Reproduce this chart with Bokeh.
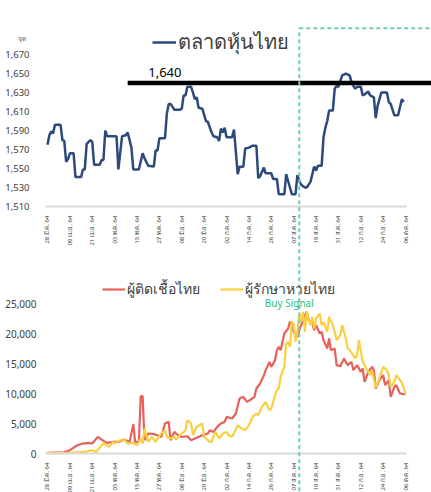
import math
from bokeh.plotting import figure
from bokeh.models import (Range1d, LinearAxis, FixedTicker, NumeralTickFormatter,
                          Legend, LegendItem, Label, BoxAnnotation)
from bokeh.embed import file_html
from bokeh.resources import INLINE

# ---------------- data ----------------
TICK_DAYS = list(range(0, 193, 12))  # days since 28 Mar 2021
TICK_LABELS = ["28 มี.ค. 64", "09 เม.ย. 64", "21 เม.ย. 64", "03 พ.ค. 64", "15 พ.ค. 64",
               "27 พ.ค. 64", "08 มิ.ย. 64", "20 มิ.ย. 64", "02 ก.ค. 64", "14 ก.ค. 64",
               "26 ก.ค. 64", "07 ส.ค. 64", "19 ส.ค. 64", "31 ส.ค. 64", "12 ก.ย. 64",
               "24 ก.ย. 64", "06 ต.ค. 64"]

STOCK_TICKS = [1510, 1530, 1550, 1570, 1590, 1610, 1630, 1650, 1670]
COVID_TICKS = [0, 5000, 10000, 15000, 20000, 25000]

STOCK_DAY = [0, 1, 2, 3, 4, 7, 8, 9, 10, 11, 12, 14, 15, 18, 19, 20, 21, 23, 24, 25, 28, 29, 30,
             31, 32, 37, 38, 40, 42, 43, 45, 46, 49, 51, 52, 54, 57, 58, 59, 60, 63, 64, 65, 66,
             68, 71, 72, 73, 74, 75, 77, 78, 79, 80, 81, 83, 85, 86, 88, 89, 91, 92, 93, 94, 95,
             96, 99, 100, 102, 103, 105, 106, 108, 110, 112, 113, 114, 116, 117, 120, 121, 123,
             124, 127, 128, 130, 131, 133, 134, 135, 136, 138, 139, 141, 143, 144, 145, 147, 148,
             149, 150, 151, 153, 154, 155, 156, 158, 160, 162, 163, 164, 165, 166, 168, 169, 170,
             172, 173, 175, 176, 177, 179, 182, 183, 184, 186, 188, 190, 191]
STOCK_SET = [1575, 1585, 1589, 1587, 1596, 1596, 1580, 1579, 1557, 1560, 1566, 1566, 1541, 1541,
             1549, 1549, 1576, 1580, 1578, 1554, 1554, 1559, 1559, 1590, 1584, 1584, 1549, 1584,
             1585, 1588, 1572, 1549, 1549, 1566, 1561, 1553, 1552, 1569, 1569, 1582, 1582, 1608,
             1618, 1618, 1612, 1612, 1613, 1627, 1627, 1636, 1636, 1630, 1623, 1625, 1614, 1613,
             1600, 1599, 1588, 1584, 1583, 1579, 1592, 1588, 1593, 1583, 1583, 1591, 1544, 1552,
             1552, 1571, 1572, 1574, 1574, 1540, 1542, 1551, 1545, 1545, 1539, 1539, 1523, 1523,
             1544, 1530, 1523, 1523, 1543, 1537, 1533, 1530, 1530, 1536, 1552, 1548, 1553, 1553,
             1583, 1593, 1600, 1611, 1611, 1634, 1637, 1636, 1648, 1650, 1648, 1641, 1637, 1634,
             1636, 1636, 1627, 1628, 1631, 1627, 1625, 1603, 1616, 1630, 1630, 1620, 1618, 1606,
             1606, 1623, 1620]

INF_DAY = [0, 9, 12, 16, 19, 22, 24, 27, 30, 32, 35, 38, 41, 42, 44, 46, 47, 49, 50, 51, 52, 54,
           57, 59, 61, 63, 65, 66, 68, 70, 72, 75, 77, 79, 83, 86, 87, 89, 91, 93, 95, 96, 99,
           101, 103, 105, 107, 109, 111, 112, 114, 116, 117, 119, 120, 122, 123, 124, 125, 126,
           127, 129, 130, 131, 132, 134, 135, 137, 138, 139, 140, 142, 143, 144, 146, 147, 148,
           150, 151, 152, 154, 155, 157, 159, 161, 163, 164, 166, 168, 169, 170, 172, 174, 175,
           176, 178, 180, 181, 183, 184, 186, 187, 189, 192]
INF_CASES = [100, 200, 550, 1380, 1660, 1770, 1660, 2770, 2100, 1770, 1940, 1940, 2330, 2220, 1940,
             4880, 1940, 1940, 9550, 9550, 2220, 3330, 3220, 3050, 2770, 5000, 5270, 2220, 3600,
             3050, 2770, 2880, 2220, 2500, 3050, 3330, 3880, 3600, 4440, 5000, 5270, 6100, 5830,
             6670, 9170, 9440, 8610, 9000, 9440, 10830, 11670, 13000, 13900, 15270, 14440, 15550,
             17220, 17770, 17200, 18600, 20000, 20830, 21940, 21660, 20280, 19440, 20550, 22200,
             23050, 23600, 22220, 21660, 20550, 21390, 19990, 20280, 18880, 17500, 19170, 17220,
             17500, 14720, 14550, 15830, 14720, 15270, 13890, 14720, 13610, 14170, 11940, 13610,
             14440, 13890, 10830, 12220, 13050, 11390, 12220, 9440, 11110, 11390, 10000, 9830]

REC_DAY = [0, 9, 20, 24, 26, 30, 32, 33, 35, 36, 39, 41, 43, 46, 48, 50, 51, 52, 54, 56, 58, 59,
           61, 63, 64, 66, 68, 69, 71, 74, 75, 77, 78, 80, 83, 84, 87, 88, 90, 92, 94, 96, 97, 99,
           102, 104, 106, 108, 110, 112, 113, 115, 117, 119, 120, 122, 123, 124, 125, 127, 128,
           129, 130, 131, 132, 133, 134, 135, 136, 137, 138, 139, 141, 142, 143, 144, 146, 147,
           148, 150, 151, 153, 154, 155, 157, 158, 160, 161, 162, 164, 165, 166, 167, 169, 170,
           171, 173, 174, 176, 177, 179, 180, 182, 183, 184, 186, 187, 189, 190, 192]
REC_CASES = [50, 50, 270, 550, 270, 1660, 1380, 1100, 1940, 1660, 2220, 2330, 1660, 1770, 1380,
             2500, 1660, 4160, 1940, 2770, 1940, 2500, 3330, 3880, 2770, 2500, 2770, 2330, 3050,
             3880, 5550, 5000, 3050, 4440, 5000, 2770, 1940, 1940, 3600, 2500, 3330, 3600, 3050,
             2800, 4700, 4160, 3880, 4720, 6100, 6660, 6400, 7770, 8600, 7220, 7500, 9720, 10550,
             10830, 12770, 14440, 18330, 18600, 17770, 21940, 21660, 18600, 20280, 23330, 21940,
             23600, 20280, 23600, 21390, 22770, 20830, 22500, 23320, 21390, 21940, 20280, 22770,
             21390, 20280, 18880, 19720, 21390, 19170, 17500, 17220, 16390, 15830, 16390, 18880,
             15270, 14720, 14170, 13050, 13890, 11000, 11660, 13610, 14440, 13890, 13050, 11110,
             11940, 13050, 12220, 11800, 10000]

RESISTANCE = 1640
RESISTANCE_FROM_DAY = 43
BUY_SIGNAL_DAY = 135  # 10 Aug 2021

# ---------------- style / layout ----------------
NAVY = "#2d4a7c"
RED = "#e9605a"
YELLOW = "#f9d042"
TEAL = "#6ccfb6"
GREEN = "#2fbf73"
TXT = "#404040"
FONT = "Noto Sans"

X_START, X_END = -25.2, 205.9     # plot frame spans the whole canvas
AX_START, AX_END = -1.07, 192.5   # extent of the drawn date axes

p = figure(width=431, height=492, x_range=Range1d(X_START, X_END),
           y_range=Range1d(-6500, 71167), output_backend="svg", toolbar_location=None,
           x_axis_location=None, y_axis_location=None, min_border_left=0,
           min_border_right=0, min_border_top=26, min_border_bottom=0)
p.extra_y_ranges = {"stock": Range1d(1209, 1699.5)}
p.xgrid.visible = False
p.ygrid.visible = False
p.outline_line_color = None
p.background_fill_color = "white"

overrides = {d: t for d, t in zip(TICK_DAYS, TICK_LABELS)}


def style_xaxis(ax, size):
    ax.ticker = FixedTicker(ticks=TICK_DAYS)
    ax.major_label_overrides = overrides
    ax.major_label_orientation = math.pi / 2
    ax.major_label_text_font_size = size
    ax.major_label_text_font = FONT
    ax.major_label_text_color = TXT
    ax.axis_line_color = "#d9d9d9"
    ax.axis_line_width = 2
    ax.major_tick_line_color = None
    ax.minor_tick_line_color = None
    ax.major_label_standoff = 3
    ax.bounds = (AX_START, AX_END)


def style_yaxis(ax, ticks, size, standoff):
    ax.ticker = FixedTicker(ticks=ticks)
    ax.formatter = NumeralTickFormatter(format="0,0")
    ax.axis_line_color = None
    ax.major_tick_line_color = None
    ax.minor_tick_line_color = None
    ax.major_label_text_font_size = size
    ax.major_label_text_font = FONT
    ax.major_label_text_color = TXT
    ax.major_label_standoff = standoff


# bottom (covid) axes
covid_x = LinearAxis(fixed_location=0)
style_xaxis(covid_x, "6px")
p.add_layout(covid_x, "below")
covid_y = LinearAxis(fixed_location=AX_START)
style_yaxis(covid_y, COVID_TICKS, "10px", 3)
p.add_layout(covid_y, "left")

# top (stock) axes
top_x = LinearAxis(y_range_name="stock", fixed_location=1510)
style_xaxis(top_x, "6px")
p.add_layout(top_x, "below")
top_y = LinearAxis(y_range_name="stock", fixed_location=AX_START)
style_yaxis(top_y, STOCK_TICKS, "9.5px", 10)
p.add_layout(top_y, "left")

# buy signal box
box = BoxAnnotation(left=BUY_SIGNAL_DAY, right=X_END + 30, top=1697.7, bottom=1000,
                    y_range_name="stock", fill_alpha=0, fill_color=None,
                    line_color=TEAL, line_alpha=1.0, line_width=2, line_dash="4 3")
p.add_layout(box)

# series
r_stock = p.line(STOCK_DAY, STOCK_SET, y_range_name="stock", line_color=NAVY, line_width=2.5)
p.segment(x0=[RESISTANCE_FROM_DAY], y0=[RESISTANCE], x1=[X_END], y1=[RESISTANCE],
          y_range_name="stock", line_color="black", line_width=4.5)
r_inf = p.line(INF_DAY, INF_CASES, line_color=RED, line_width=2.2)
r_rec = p.line(REC_DAY, REC_CASES, line_color=YELLOW, line_width=2.2)

# labels
p.add_layout(Label(x=54, y=RESISTANCE, y_range_name="stock", text="1,640", y_offset=6,
                   text_baseline="bottom", text_font=FONT, text_font_size="13px",
                   text_color="black"))
p.add_layout(Label(x=AX_START, y=1687, y_range_name="stock", text="จุด", x_offset=-28,
                   text_font=FONT, text_font_size="7px", text_color="#666666",
                   text_baseline="middle"))
p.add_layout(Label(x=BUY_SIGNAL_DAY, y=25150, text="Buy Signal", x_offset=-10,
                   text_align="center", text_baseline="middle", text_font=FONT,
                   text_font_size="10px", text_color=GREEN))

# legends
leg_top = Legend(items=[LegendItem(label="ตลาดหุ้นไทย", renderers=[r_stock])],
                 location=(152, 434), label_text_font_size="20px", label_text_font=FONT,
                 label_text_color=TXT, glyph_width=24, glyph_height=20, label_standoff=2,
                 padding=0, margin=0, border_line_color=None, background_fill_alpha=0)
p.add_layout(leg_top)
leg_bot = Legend(items=[LegendItem(label="ผู้ติดเชื้อไทย", renderers=[r_inf]),
                        LegendItem(label="ผู้รักษาหายไทย", renderers=[r_rec])],
                 location=(102, 192), orientation="horizontal", label_text_font_size="14px",
                 label_text_font=FONT, label_text_color=TXT, glyph_width=23, glyph_height=16,
                 label_standoff=2, spacing=20, padding=0, margin=0, border_line_color=None,
                 background_fill_alpha=0)
p.add_layout(leg_bot)

open("out.html", "w").write(file_html(p, INLINE))
